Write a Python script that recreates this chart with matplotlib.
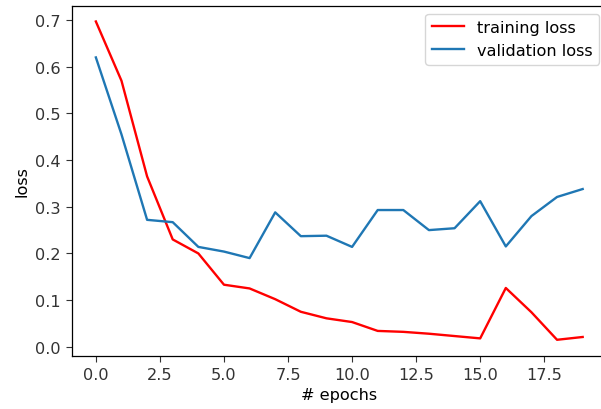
import numpy as np
import matplotlib
matplotlib.use("Agg")
import matplotlib.pyplot as plt

epochs = np.arange(20)
train_loss = [0.697, 0.57, 0.365, 0.23, 0.20, 0.133, 0.125, 0.102, 0.075, 0.061,
              0.053, 0.034, 0.032, 0.028, 0.023, 0.018, 0.126, 0.074, 0.015, 0.021]
val_loss = [0.62, 0.455, 0.272, 0.267, 0.214, 0.204, 0.19, 0.288, 0.237, 0.238,
            0.214, 0.293, 0.293, 0.25, 0.254, 0.312, 0.215, 0.28, 0.321, 0.338]

# reference looks like an upscaled notebook figure, so bump sizes a bit
plt.rcParams.update({
    "font.size": 11.6,
    "lines.linewidth": 1.7,
    "axes.linewidth": 0.9,
    "xtick.major.size": 4.5,
    "ytick.major.size": 4.5,
    "xtick.color": "#333333",
    "ytick.color": "#333333",
})

fig = plt.figure(figsize=(6.01, 4.10), dpi=100)
# right edge of the axes is cut off in the reference
ax = fig.add_axes([0.119, 0.130, 0.891, 0.854])
ax.plot(epochs, train_loss, color="red", label="training loss")
ax.plot(epochs, val_loss, color="#1f77b4", label="validation loss")
ax.set_xlabel("# epochs")
ax.set_ylabel("loss")
ax.legend()
fig.savefig("out.png", dpi=100)
